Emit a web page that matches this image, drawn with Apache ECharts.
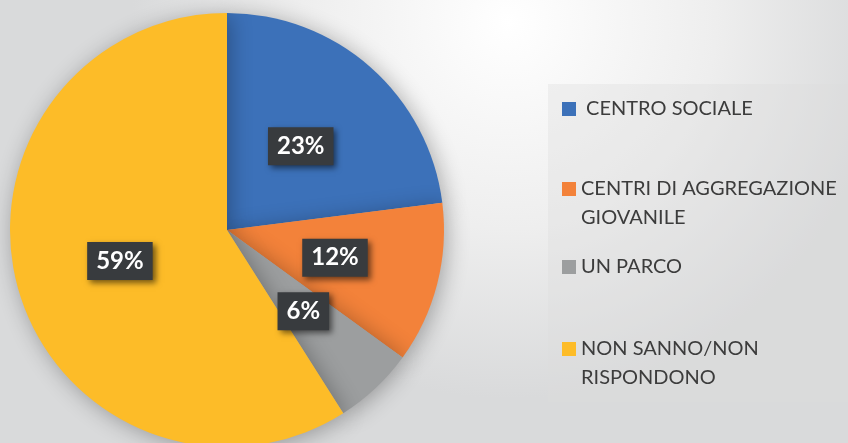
<!DOCTYPE html>
<html>
<head>
<meta charset="utf-8">
<script src="https://cdn.jsdelivr.net/npm/echarts@6/dist/echarts.min.js"></script>
<style>html,body{margin:0;padding:0;}#c{width:848px;height:443px;}</style>
</head>
<body>
<div id="c"></div>
<script>
const categories = ['CENTRO SOCIALE', 'CENTRI DI AGGREGAZIONE GIOVANILE', 'UN PARCO', 'NON SANNO/NON RISPONDONO'];
const values = [23, 12, 6, 59];
const colors = ['#3c71b9', '#f3823a', '#9c9e9f', '#fdbc28'];
const legendLines = [[' CENTRO SOCIALE'], ['CENTRI DI AGGREGAZIONE', 'GIOVANILE'], ['UN PARCO'], ['NON SANNO/NON', 'RISPONDONO']];

const chart = echarts.init(document.getElementById('c'));
const iconTops = [102, 182, 260, 342];
const lineH = 29;
const legends = categories.map((name, i) => {
  const lines = legendLines[i];
  const h = lineH * lines.length;
  const sq = (lineH - 14) / 2;
  const icon = 'path://M0,0h0.01v0.01h-0.01z M0,' + sq + 'h14v14h-14z M0,' + (h - 0.01) + 'h0.01v0.01h-0.01z';
  return {
    data: [name],
    left: 562,
    top: iconTops[i] - sq,
    padding: 0,
    icon: icon,
    itemWidth: 14,
    itemHeight: h,
    itemGap: 0,
    selectedMode: false,
    formatter: () => lines.join('\n'),
    textStyle: {
      fontFamily: 'Lato',
      fontSize: 20,
      color: '#3c3c3c',
      lineHeight: lineH
    }
  };
});

chart.setOption({
  backgroundColor: {
    type: 'radial', x: 0.6, y: 0.05, r: 0.85,
    colorStops: [{ offset: 0, color: '#ffffff' }, { offset: 0.55, color: '#eeeeee' }, { offset: 1, color: '#d9dadb' }]
  },
  color: colors,
  graphic: [{
    type: 'rect', left: 548, top: 84, z: -1,
    shape: { width: 300, height: 318 },
    style: { fill: 'rgba(220,221,222,0.35)' }
  }],
  legend: legends,
  series: [{
    type: 'pie',
    center: [227, 230],
    radius: 217,
    startAngle: 90,
    clockwise: true,
    silent: true,
    animation: false,
    data: categories.map((n, i) => ({ name: n, value: values[i] })),
    itemStyle: { shadowBlur: 22, shadowColor: 'rgba(0,0,0,0.3)', shadowOffsetX: 3, shadowOffsetY: 3 },
    label: {
      position: 'inside',
      formatter: p => p.value + '%',
      fontFamily: 'Lato',
      fontWeight: 'bold',
      fontSize: 24,
      color: '#ffffff',
      backgroundColor: '#383b3e',
      padding: [8, 9, 6, 9],
      shadowColor: 'rgba(0,0,0,0.55)',
      shadowBlur: 6,
      shadowOffsetX: 3,
      shadowOffsetY: 3
    },
    labelLine: { show: false }
  }]
});
</script>
</body>
</html>
